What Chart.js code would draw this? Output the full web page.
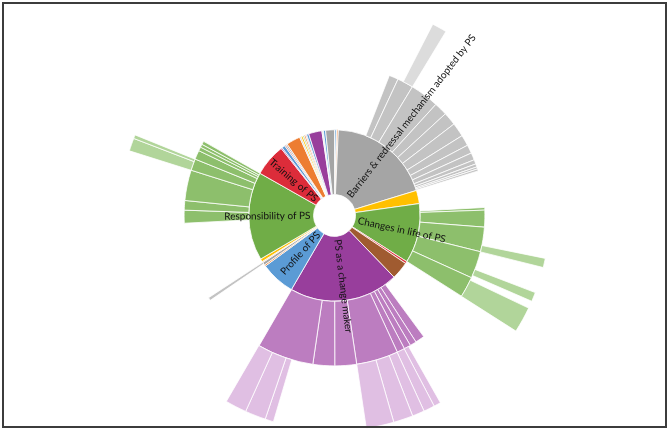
<!DOCTYPE html>
<html>
<head>
<meta charset="utf-8">
<title>Sunburst – themes</title>
<script src="https://cdn.jsdelivr.net/npm/chart.js@4.4.1/dist/chart.umd.min.js"></script>
<style>
  html, body { margin: 0; padding: 0; background: #fff; }
  #wrap { width: 669px; height: 431px; }
</style>
</head>
<body>
<div id="wrap"><canvas id="chart" width="669" height="431"></canvas></div>
<script>
// Inner ring: themes. Values are shares of the circle (total 360).
const themeLabels = [
  '', '', '', 'Barriers & redressal mechanism adopted by PS', '', 'Changes in life of PS',
  '', '', 'PS as a change maker', 'Profile of PS', '', '', '', '',
  'Responsibility of PS', 'Training of PS', '', '', '', '', '', '', '', '', '', '', '', '', '', '', ''
];
const themeValues = [
  1.2, 0.5, 0.9, 70.4, 9, 40.5,
  1.5, 12, 74.2, 23.6, 1, 2, 0.7, 2,
  60, 22, 0.8, 2.2, 1, 1, 9.5, 1, 1.2, 1, 1, 0.8, 1.5, 9, 1, 1.5, 6
];
const themeColours = [
  '#5b9bd5', '#a5a5a5', '#ed7d31', '#a5a5a5', '#ffc000', '#70ad47',
  '#e0303a', '#a05b30', '#983e9c', '#5b9bd5', '#ed7d31', '#a5a5a5', '#f4b183', '#ffc000',
  '#70ad47', '#dc2c3a', '#983e9c', '#5b9bd5', '#c98b8b', '#a5a5a5', '#ed7d31', '#c9c9c9',
  '#ffc000', '#a9d18e', '#ed7d31', '#e7a1b0', '#5b9bd5', '#983e9c', '#e2e2e2', '#5b9bd5', '#a5a5a5'
];

// Middle ring: sub-themes (null group = no sub-theme under that part of the circle)
const subValues = [
  21.4,
  3.6, 6.2, 11.2, 5.1, 5.1, 5.4, 4.2, 3.3, 2.8, 1.7, 1.2, 0.8, 0.8,
  14.2,
  1, 6.5, 9.5, 10.5, 8,
  21.2,
  3.6, 2.5, 2.6, 3, 16.2, 8.4, 8.4, 21.8,
  25.6,
  1.2,
  30.2,
  5, 3.7, 11.8, 4.5, 3.5, 1.5, 1.2, 1.3,
  60.5
];
const subGroups = [
  null,
  'gray', 'gray', 'gray', 'gray', 'gray', 'gray', 'gray', 'gray', 'gray', 'gray', 'gray', 'gray', 'gray',
  null,
  'green', 'green', 'green', 'green', 'green',
  null,
  'purple', 'purple', 'purple', 'purple', 'purple', 'purple', 'purple', 'purple',
  null,
  'gray',
  null,
  'green', 'green', 'green', 'green', 'green', 'green', 'green', 'green',
  null
];

// Outer ring: codes
const codeValues = [
  27.2, 4, 70.3, 2.5, 7, 2.5, 2, 7, 28,
  1.9, 3, 3.3, 5.3, 7.5, 25, 2.3, 5.6, 5.8,
  77.3, 3.5, 1, 68
];
const codeGroups = [
  null, 'gray', null, 'green', null, 'green', null, 'green', null,
  'purple', 'purple', 'purple', 'purple', 'purple', null, 'purple', 'purple', 'purple',
  null, 'green', 'green', null
];

const SUB_COLOURS  = { gray: '#c3c3c3', green: '#8dbf6c', purple: '#bc7dc0' };
const CODE_COLOURS = { gray: '#dcdcdc', green: '#b1d59a', purple: '#e0bfe3' };

function ring(values, groups, palette) {
  return {
    data: values,
    backgroundColor: groups.map(g => g ? palette[g] : 'rgba(0,0,0,0)'),
    borderColor: '#ffffff',
    borderWidth: groups.map(g => g ? 0.8 : 0),
  };
}

// Labels run along the radius, starting just outside the hole
const radialLabels = {
  id: 'radialLabels',
  afterDatasetsDraw(chart) {
    const meta = chart.getDatasetMeta(2);
    const ctx = chart.ctx;
    ctx.save();
    ctx.font = '10px Lato, "Open Sans", sans-serif';
    ctx.fillStyle = '#111111';
    ctx.textBaseline = 'middle';
    meta.data.forEach((arc, i) => {
      const text = themeLabels[i];
      if (!text) return;
      const p = arc.getProps(['x', 'y', 'startAngle', 'endAngle', 'innerRadius'], true);
      const mid = (p.startAngle + p.endAngle) / 2;
      const right = Math.cos(mid) >= 0;
      ctx.save();
      ctx.translate(p.x, p.y);
      ctx.rotate(right ? mid : mid + Math.PI);
      ctx.textAlign = right ? 'left' : 'right';
      ctx.fillText(text, right ? p.innerRadius + 3 : -(p.innerRadius + 3), 0);
      ctx.restore();
    });
    ctx.restore();
  }
};

// Picture frame
const frame = {
  id: 'frame',
  afterDraw(chart) {
    const ctx = chart.ctx;
    ctx.save();
    ctx.strokeStyle = '#3c3c3c';
    ctx.lineWidth = 2;
    ctx.strokeRect(3, 3, 663, 424);
    ctx.restore();
  }
};

new Chart(document.getElementById('chart'), {
  type: 'doughnut',
  data: {
    labels: themeValues.map((_, i) => i),
    datasets: [
      ring(codeValues, codeGroups, CODE_COLOURS),
      ring(subValues, subGroups, SUB_COLOURS),
      {
        data: themeValues,
        backgroundColor: themeColours,
        borderColor: '#ffffff',
        borderWidth: 0.8,
      },
    ],
  },
  options: {
    responsive: false,
    animation: false,
    events: [],
    cutout: 21,
    hoverOffset: 0,
    layout: { padding: 0 },
    plugins: {
      legend: { display: false },
      tooltip: { enabled: false },
    },
  },
  plugins: [radialLabels, frame],
});
</script>
</body>
</html>
